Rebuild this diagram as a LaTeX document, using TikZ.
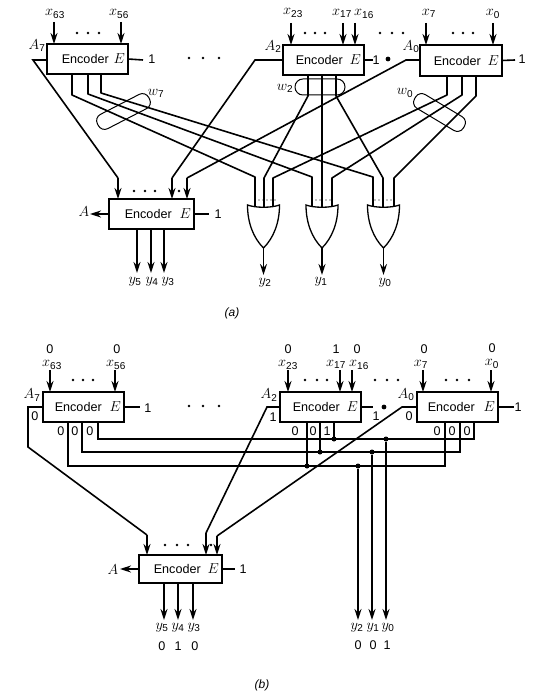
\documentclass[tikz,border=0pt]{standalone}
\usepackage{fontspec}
\setmainfont{Liberation Sans}
\usetikzlibrary{arrows.meta}
\newcommand{\mvar}[1]{{\fontsize{15}{17}\selectfont$#1$}}
\newcommand{\enctxt}[2]{\makebox[#1pt][r]{Encoder\hspace{#2pt}\mvar{E}\hspace{3pt}}}
\newcommand{\sub}[2]{{\fontsize{15}{17}\selectfont$#1_{\mbox{\fontsize{10}{11}\selectfont #2}}$}}
\tikzset{
  enc/.style={draw,rectangle,line width=1.4pt,inner sep=0pt,outer sep=0pt},
  wire/.style={line width=1.6pt},
  awire/.style={line width=1.6pt,-{Stealth[length=11pt,width=7pt]}},
  lbl/.style={inner sep=0pt,outer sep=0pt},
  thinloop/.style={line width=1pt,rounded corners=6.9pt},
  dotmark/.style={circle,fill=black,inner sep=0pt,minimum size=5pt},
  orgate/.pic={
    \draw[line width=1.3pt] (-16,0) .. controls (-8,3) and (8,3) .. (16,0)
      .. controls (16,18) and (10,33) .. (0,43)
      .. controls (-10,33) and (-16,18) .. (-16,0) -- cycle;
    \coordinate (-tip) at (0,43);
  }
}
\begin{document}
\begin{tikzpicture}[x=1pt,y=-1pt,every node/.append style={font=\fontsize{12.6}{14}\selectfont}]
\useasboundingbox (0,0) rectangle (553,692);
% ---------------- (a) ----------------
\node[enc,minimum width=81pt,minimum height=30pt] (a7) at (87.5,59) {\enctxt{81}{5}};
\node[enc,minimum width=81pt,minimum height=30pt] (a2) at (323.5,60) {\enctxt{81}{7}};
\node[enc,minimum width=82pt,minimum height=31pt] (a0) at (461,60.5) {\enctxt{82}{7}};
\node[enc,minimum width=85pt,minimum height=30pt] (am) at (151.5,214) {\enctxt{85}{8}};
\pic (g2) at (263.5,205) {orgate};
\pic (g1) at (322,205) {orgate};
\pic (g0) at (383.5,205) {orgate};
% labels
\foreach \n/\x/\y/\v/\s in {lx63/55/14/x/63,lx56/119/14/x/56,lx23/293/13/x/23,lx17/342/13/x/17,lx16/364/14/x/16,lx7/429/13/x/7,lx0/493/14/x/0,
  ly5/135/282/y/5,ly4/152/282/y/4,ly3/168/282/y/3,ly2/265/283/y/2,ly1/321/282/y/1,ly0/385/283/y/0,
  lA7/37/46/A/7,lA2/273/47/A/2,lA0/411/47/A/0,lw7/156/93/w/7,lw2/285/88/w/2,lw0/405/93/w/0}
  \node[lbl] (\n) at (\x,\y) {\sub{\v}{\s}};
\node[lbl] (lA) at (84,212) {\mvar{A}};
\node[lbl] (la71) at (152,59) {1};
\node[lbl] (la21) at (376,60) {1};
\node[lbl] (la01) at (522,59) {1};
\node[lbl] (lam1) at (218,214) {1};
\node[lbl,font=\fontsize{12}{14}\selectfont\itshape] (capa) at (232,313) {(a)};
% pins and bends (a)
\foreach \n/\x/\y in {i63/54/22,i56/121/22,i23/291/23,i17/343/23,i16/355/23,i7/426/23,i0/493/23,
  e63/54/44,e56/121/44,e23/291/45,e17/343/45,e16/355/45,e7/426/45,e0/493/45,
  a7L/33/60,a2L/255/60,
  t1/118/178,t2/172/178,t3/187/178,m1/118/199,m2/172/199,m3/187/199,
  o1/137/229,o2/151/229,o3/164/229,y5e/137/273,y4e/151/273,y3e/164/273,
  aA/90/214,a7E/143/60,a2E/373/60,a0E/515/60,amE/209/214}
  \coordinate (\n) at (\x,\y);
\coordinate (a0L) at (406,60);
\foreach \p/\q in {i63/e63,i56/e56,i23/e23,i17/e17,i16/e16,i7/e7,i0/e0} \draw[awire] (\p)--(\q);
\draw[wire] (a7.west|-a7L)--(a7L)--(t1);
\draw[awire] (t1)--(m1);
\draw[wire] (a2.west|-a2L)--(a2L)--(t2);
\draw[awire] (t2)--(m2);
\draw[wire] (a0.west|-a0L)--(a0L)--(t3);
\draw[awire] (t3)--(m3);
\draw[awire] (am.west|-aA)--(aA);
\foreach \p/\q in {o1/y5e,o2/y4e,o3/y3e} \draw[awire] (\p)--(\q);
\draw[wire] (a7.east)--(a7E);
\draw[wire] (a2.east)--(a2E);
\draw[wire] (a0.east)--(a0E);
\draw[wire] (am.east)--(amE);
% wires into gates (a)
\foreach \tx/\ox/\oy/\bx/\by/\gx in {
  74/72/95/255/177/255, 74/88/94/312/177/312, 74/101/93/373/177/373,
  75/308/96/264/178/264, 75/322/96/322/178/322, 75/336/96/383/178/383,
  76/447/95/273/178/273, 76/462/95/332/178/332, 76/476/96/394/178/394}
  \draw[wire,line join=round] (\ox,\tx) -- (\ox,\oy) -- (\bx,\by) -- (\gx,207);
\draw[awire] (g2-tip)--(263.5,275);
\draw[awire] (g1-tip)--(322,275);
\draw[awire] (g0-tip)--(383.5,275);
% loops
\draw[thinloop] (101.6,131.8)--(94.2,117.6)--(145.4,91.2)--(152.8,105.4)--cycle;
\draw[thinloop] (411,104.8)--(419.2,91)--(468,120.2)--(459.8,134)--cycle;
\draw[line width=1pt,rounded corners=7.9pt] (295,79) rectangle (345,95);
% dots (a)
\foreach \x/\y in {77/33,88/33,99/33,189/58,203/58,219/58,305/33,315/33,325/33,380/33,392/33,403/33,453/33,463/33,473/33,134/191,145/191,155/191,179/191}
  \fill (\x,\y) circle (1.3);
\fill (388,59) circle (2.4);
\foreach \x in {255,259,263,267,271,275,316,320,326,330,375,379,387,391}
  \fill (\x,200) circle (.7);
% ---------------- (b) ----------------
\node[enc,minimum width=81pt,minimum height=30pt] (b7) at (83.5,407) {\enctxt{81}{8}};
\node[enc,minimum width=81pt,minimum height=30pt] (b2) at (320.5,407) {\enctxt{81}{7}};
\node[enc,minimum width=81pt,minimum height=30pt] (b0) at (457.5,407) {\enctxt{81}{9}};
\node[enc,minimum width=83pt,minimum height=28pt] (bm) at (180.5,569) {\enctxt{83}{7}};
\foreach \n/\x/\y/\v/\s in {mx63/52/365/x/63,mx56/116/365/x/56,mx23/288/365/x/23,mx17/336/364/x/17,mx16/359/365/x/16,mx7/421/364/x/7,mx0/492/364/x/0,
  my5/162/628/y/5,my4/178/628/y/4,my3/194/628/y/3,my2/357/628/y/2,my1/373/628/y/1,my0/388/628/y/0,
  mA7/32/395/A/7,mA2/269/395/A/2,mA0/406/395/A/0}
  \node[lbl] (\n) at (\x,\y) {\sub{\v}{\s}};
\node[lbl] (mA) at (113,570) {\mvar{A}};
\foreach \n/\x/\y/\t in {v1/50/349/0,v2/117/349/0,v3/288/349/0,v4/336/349/1,v5/357/349/0,v6/424/349/0,v7/492/348/0,
  v8/35/416/0,v9/273/417/1,v10/376/416/1,v11/409/416/0,
  z1/61/431/0,z2/75/431/0,z3/90/431/0,z4/295/431/0,z5/313/431/0,z6/327/431/1,z7/437/431/0,z8/452/431/0,z9/467/431/0,
  r1/148/408/1,r2/518/407/1,r3/243/569/1,
  w1/162/646/0,w2/178/646/1,w3/195/646/0,w4/358/645/0,w5/373/645/0,w6/387/645/1}
  \node[lbl] (\n) at (\x,\y) {\t};
\node[lbl,font=\fontsize{12}{14}\selectfont\itshape] (capb) at (262,685) {(b)};
\foreach \n/\x/\y in {j63/50/370,j56/115/370,j23/288/370,j17/340/370,j16/352/370,j7/423/370,j0/491/370,
  k63/50/392,k56/115/392,k23/288/392,k17/340/392,k16/352/392,k7/423/392,k0/491/392,
  b7L/28/407,b7M/28/447,b7N/147/535,b7P/147/555,
  b2L/267/407,b2N/206/533,b2P/206/555,
  b0L/402/407,b0N/217/536,
  bA/120/569,b7E/140/407,b2E/373/407,b0E/514/407,bmE/235/569}
  \coordinate (\n) at (\x,\y);
\coordinate (b0P) at (217,555);
\foreach \p/\q in {j63/k63,j56/k56,j23/k23,j17/k17,j16/k16,j7/k7,j0/k0} \draw[awire] (\p)--(\q);
\draw[wire] (b7.west)--(b7L)--(b7M)--(b7N);
\draw[awire] (b7N)--(b7P);
\draw[wire] (b2.west)--(b2L)--(b2N);
\draw[awire] (b2N)--(b2P);
\draw[wire] (b0.west)--(b0L)--(b0N);
\draw[awire] (b0N)--(b0P);
\draw[awire] (bm.west)--(bA);
\draw[wire] (b7.east)--(b7E);
\draw[wire] (b2.east)--(b2E);
\draw[wire] (b0.east)--(b0E);
\draw[wire] (bm.east)--(bmE);
\foreach \x in {164,178,193} \draw[awire] (\x,583)--(\x,620);
% buses
\draw[wire] (68,422)--(68,466)--(445,466)--(445,422);
\draw[wire] (82,422)--(82,452)--(460,452)--(460,422);
\draw[wire] (98,422)--(98,439)--(474,439)--(474,422);
\draw[wire] (307,422)--(307,466);
\draw[wire] (320,422)--(320,452);
\draw[wire] (334,422)--(334,439);
\node[dotmark] (d1) at (307,466) {};
\node[dotmark] (d2) at (320,452) {};
\node[dotmark] (d3) at (334,439) {};
\node[dotmark] (d4) at (358,466) {};
\node[dotmark] (d5) at (372,452) {};
\node[dotmark] (d6) at (386,439) {};
\draw[awire] (d4)--(358,620);
\draw[awire] (d5)--(372,620);
\draw[awire] (d6)--(386,620);
\foreach \x/\y in {73/380,83/380,93/380,189/406,203/406,219/406,305/380,317/380,327/380,375/380,387/380,398/380,446/380,457/380,469/380,165/545,177/545,188/545,211/545}
  \fill (\x,\y) circle (1.3);
\fill (384,407) circle (2.4);
\end{tikzpicture}
\end{document}
